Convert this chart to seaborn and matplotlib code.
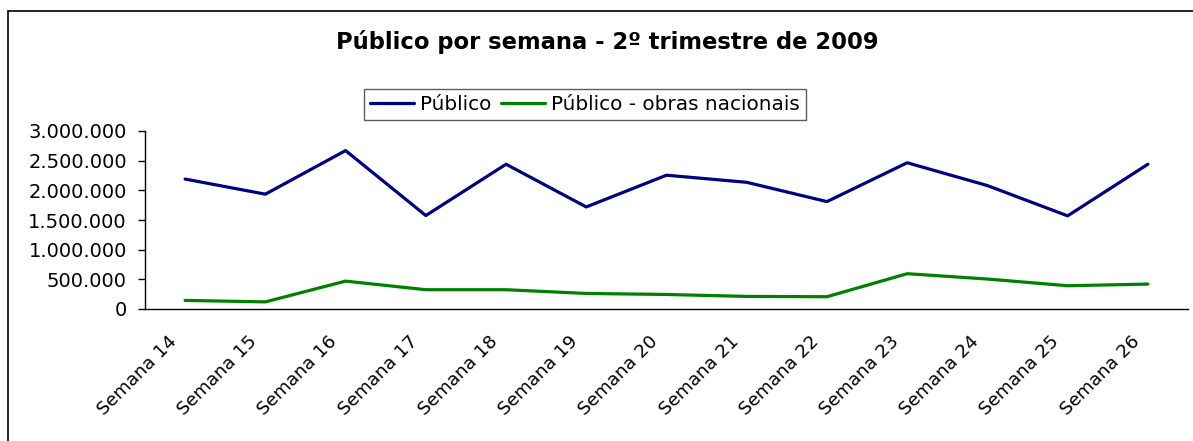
import matplotlib
matplotlib.use("Agg")
import matplotlib.pyplot as plt
import matplotlib.ticker as mticker
import matplotlib.transforms as mtransforms
import seaborn as sns
import pandas as pd
from matplotlib.patches import Rectangle
from matplotlib.lines import Line2D

semanas = ["Semana 14", "Semana 15", "Semana 16", "Semana 17", "Semana 18",
           "Semana 19", "Semana 20", "Semana 21", "Semana 22", "Semana 23",
           "Semana 24", "Semana 25", "Semana 26"]
publico = [2190000, 1935000, 2670000, 1575000, 2440000, 1720000, 2255000,
           2135000, 1810000, 2465000, 2080000, 1570000, 2440000]
publico_nacionais = [145000, 120000, 470000, 325000, 325000, 262000, 245000,
                     212000, 207000, 595000, 505000, 392000, 420000]
series_names = ["Público", "Público - obras nacionais"]
y_ticks = [0, 500000, 1000000, 1500000, 2000000, 2500000, 3000000]
title = "Público por semana - 2º trimestre de 2009"

df = pd.DataFrame({
    "idx": list(range(len(semanas))) * 2,
    "valor": publico + publico_nacionais,
    "serie": [series_names[0]] * len(semanas) + [series_names[1]] * len(semanas),
})

sns.set_style("white")
plt.rcParams["font.family"] = ["DejaVu Sans"]
plt.rcParams["text.color"] = "black"
plt.rcParams["axes.labelcolor"] = "black"
plt.rcParams["xtick.color"] = "black"
plt.rcParams["ytick.color"] = "black"

fig = plt.figure(figsize=(11.93, 4.41), dpi=100)
ax = fig.add_axes([145 / 1193, 1 - 309 / 441, (1188 - 145) / 1193, (309 - 131) / 441])

sns.lineplot(data=df, x="idx", y="valor", hue="serie",
             palette={series_names[0]: "#000080", series_names[1]: "#008000"},
             linewidth=2.3, ax=ax, legend=False)

ax.set_xlim(-0.5, len(semanas) - 0.5)
ax.set_ylim(0, 3000000)
ax.set_xticks(range(len(semanas)))
ax.set_xticks([i - 0.5 for i in range(len(semanas) + 1)], minor=True)
ax.tick_params(axis="x", which="major", length=0, pad=19)
ax.tick_params(axis="x", which="minor", length=6, width=1, color="#555555", direction="out")
ax.set_xticklabels(semanas, rotation=45, ha="right", va="center",
                   rotation_mode="anchor", fontsize=13.2)
offset = mtransforms.ScaledTranslation(-11 / 100, -3 / 100, fig.dpi_scale_trans)
for lbl in ax.get_xticklabels():
    lbl.set_transform(lbl.get_transform() + offset)

ax.set_yticks(y_ticks)
ax.yaxis.set_major_formatter(mticker.FuncFormatter(lambda v, p: f"{int(v):,}".replace(",", ".")))
ax.tick_params(axis="y", length=5, width=1, color="black", direction="out",
               labelsize=14, pad=8, left=True)
ax.set_xlabel("")
ax.set_ylabel("")
for s in ["top", "right"]:
    ax.spines[s].set_visible(False)
for s in ["left", "bottom"]:
    ax.spines[s].set_color("black")
    ax.spines[s].set_linewidth(1)

handles = [Line2D([], [], color="#000080", linewidth=2.3),
           Line2D([], [], color="#008000", linewidth=2.3)]
leg = fig.legend(handles, series_names, loc="center", bbox_to_anchor=(585 / 1193, 1 - 104.5 / 441),
                 ncol=2, fontsize=14.4, frameon=True, fancybox=False, handlelength=2.2,
                 handletextpad=0.3, columnspacing=0.45, borderpad=0.32, borderaxespad=0)
leg.get_frame().set_edgecolor("#333333")
leg.get_frame().set_linewidth(1)

fig.text(607 / 1193, 1 - 42 / 441, title, ha="center", va="center",
         fontsize=16.3, fontweight="bold", color="black")

fig.patches.append(Rectangle((8 / 1193, -0.1), 1.2, 1 - 11 / 441 + 0.1,
                             transform=fig.transFigure, fill=False,
                             edgecolor="black", linewidth=1.2))

fig.savefig("out.png", dpi=100, facecolor="white")
